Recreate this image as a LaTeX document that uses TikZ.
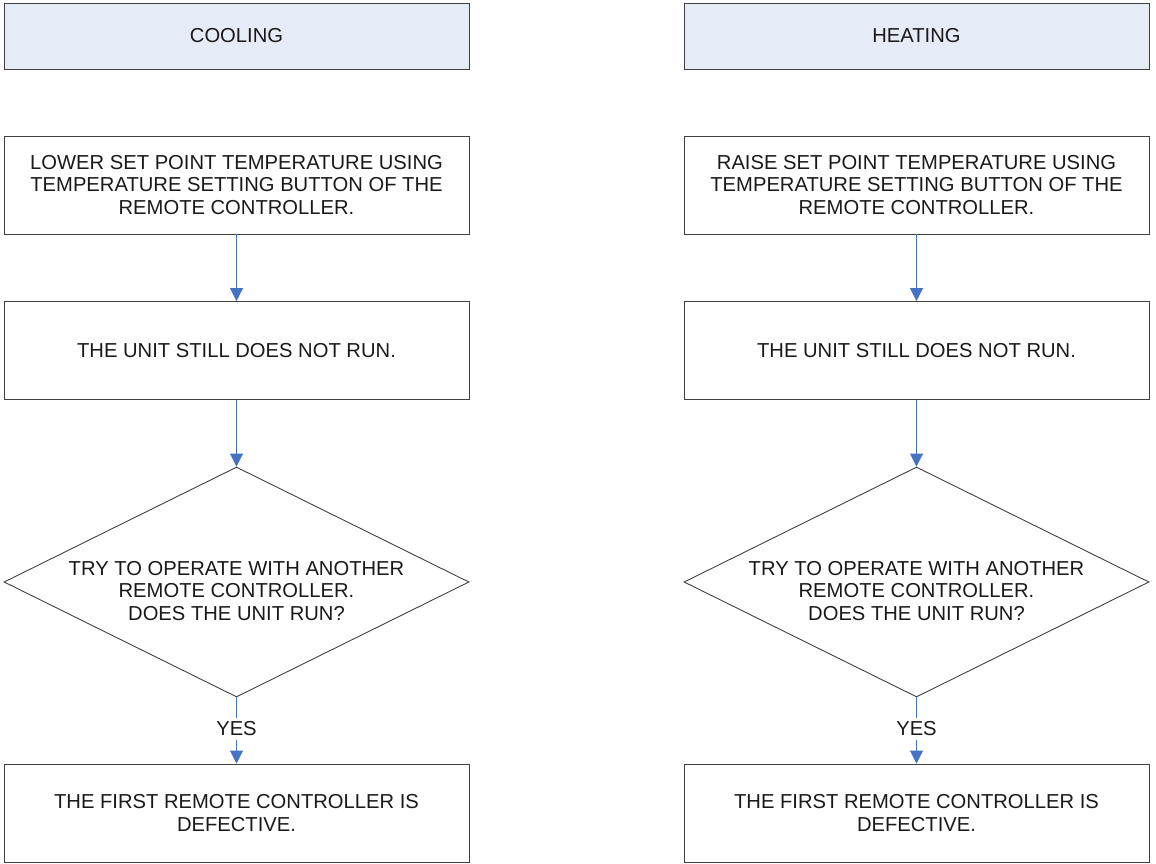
\documentclass[tikz,border=0pt]{standalone}
\usepackage{fontspec}
\setmainfont{Liberation Sans}
\usetikzlibrary{arrows.meta,positioning,shapes.geometric}
\definecolor{hdfill}{RGB}{230,236,247}
\definecolor{flowblue}{RGB}{68,114,196}
\definecolor{edgegray}{RGB}{64,64,64}
\newcommand{\chartfont}{\fontsize{20.2}{22.8}\selectfont}
\tikzset{
  stepbox/.style={draw=edgegray, line width=0.9pt, minimum width=465pt, minimum height=98pt,
    align=center, inner sep=0pt, font=\chartfont, text=black!90},
  headbox/.style={stepbox, fill=hdfill, minimum height=66pt},
  askshape/.style={diamond, draw=edgegray, line width=0.9pt, minimum width=465pt,
    minimum height=230pt, inner sep=0pt},
  asktext/.style={align=center, inner sep=0pt, font=\chartfont, text=black!90},
  yeslbl/.style={inner sep=4pt, font=\chartfont, text=black!90},
  flowln/.style={draw=flowblue, line width=0.9pt},
  flow/.style={flowln, -{Triangle[length=13pt,width=13pt]}},
}

\begin{document}
\begin{tikzpicture}[x=1pt, y=-1pt]
  \useasboundingbox (0,0) rectangle (1156,864);
  \foreach \cx/\sd/\title/\verb in {236.5/c/COOLING/LOWER, 916.5/h/HEATING/RAISE}{
    % column header
    \node[headbox] (hd\sd) at (\cx,36) {\title};
    % steps
    \node[stepbox] (adj\sd) at (\cx,185)
      {\verb\ SET POINT TEMPERATURE USING\\TEMPERATURE SETTING BUTTON OF THE\\REMOTE CONTROLLER.};
    \node[stepbox] (run\sd) at (\cx,350.5) {THE UNIT STILL DOES NOT RUN.};
    \node[askshape] (ask\sd) at (\cx,582) {};
    \node[asktext] (asktx\sd) at (\cx,591)
      {TRY TO OPERATE WITH ANOTHER\\REMOTE CONTROLLER.\\DOES THE UNIT RUN?};
    \node[yeslbl] (yes\sd) at (\cx,729) {YES};
    \node[stepbox] (bad\sd) at (\cx,813) {THE FIRST REMOTE CONTROLLER IS\\DEFECTIVE.};
    % connectors
    \draw[flow] (adj\sd.south) -- (run\sd.north);
    \draw[flow] (run\sd.south) -- (ask\sd.north);
    \draw[flowln] (ask\sd.south) -- (yes\sd.north);
    \draw[flow] (yes\sd.south) -- (bad\sd.north);
  }
\end{tikzpicture}
\end{document}
